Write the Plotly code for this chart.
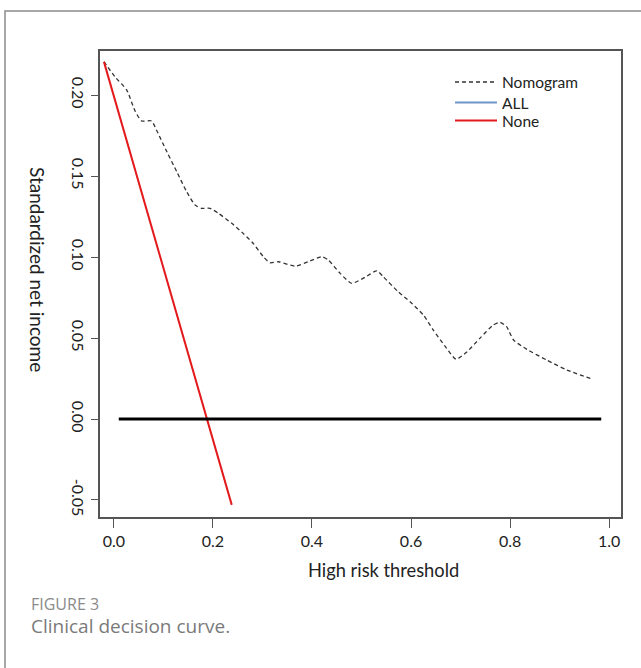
import plotly.graph_objects as go

# ---- data ----
nomo_x = [-0.020, 0.002, 0.026, 0.042, 0.056, 0.076, 0.086, 0.107, 0.127, 0.147, 0.164,
          0.177, 0.194, 0.211, 0.238, 0.261, 0.281, 0.302, 0.315, 0.332, 0.366, 0.396,
          0.420, 0.433, 0.457, 0.480, 0.507, 0.531, 0.544, 0.574, 0.598, 0.625, 0.645,
          0.672, 0.691, 0.713, 0.739, 0.766, 0.780, 0.793, 0.807, 0.834, 0.874, 0.915, 0.962]
nomo_y = [0.2206, 0.2113, 0.2031, 0.1907, 0.1840, 0.1840, 0.1784, 0.1650, 0.1527, 0.1403, 0.1321,
          0.1301, 0.1301, 0.1270, 0.1208, 0.1146, 0.1085, 0.1002, 0.0965, 0.0971, 0.0944, 0.0975,
          0.1002, 0.0981, 0.0899, 0.0838, 0.0875, 0.0915, 0.0878, 0.0786, 0.0724, 0.0642, 0.0549,
          0.0436, 0.0369, 0.0415, 0.0498, 0.0580, 0.0597, 0.0570, 0.0488, 0.0430, 0.0364, 0.0302, 0.0251]

all_x = [0.010, 0.984]
all_y = [0.0, 0.0]

none_x = [-0.020, 0.238]
none_y = [0.2205, -0.053]

x_ticks = [0.0, 0.2, 0.4, 0.6, 0.8, 1.0]
x_tick_labels = ["0.0", "0.2", "0.4", "0.6", "0.8", "1.0"]
y_ticks = [-0.05, 0.0, 0.05, 0.10, 0.15, 0.20]
y_tick_labels = ["-0.05", "0.00", "0.05", "0.10", "0.15", "0.20"]

FONT = "Lato, 'Open Sans', sans-serif"
CAPFONT = "'Open Sans', sans-serif"
AXC = "#555555"

fig = go.Figure()
fig.add_trace(go.Scatter(x=nomo_x, y=nomo_y, mode="lines", name="Nomogram", legend="legend",
                         line=dict(color="#333333", width=1.3, dash="4px,3px", shape="spline", smoothing=0.6)))
fig.add_trace(go.Scatter(x=all_x, y=all_y, mode="lines", name="ALL", legend="legend2",
                         line=dict(color="#6f95c9", width=2)))
fig.add_trace(go.Scatter(x=none_x, y=none_y, mode="lines", name="None", legend="legend3",
                         line=dict(color="#e3191c", width=2)))
# thick black reference line drawn over the ALL line
fig.add_trace(go.Scatter(x=all_x, y=all_y, mode="lines", showlegend=False,
                         line=dict(color="#000000", width=3), hoverinfo="skip"))


def leg(top_px):
    return dict(x=(450 - 100) / 521, y=(517 - top_px) / 466, xanchor="left", yanchor="top",
                bgcolor="rgba(0,0,0,0)", font=dict(size=15.5, family=FONT, color="#222"),
                itemwidth=42, tracegroupgap=0)


fig.update_layout(
    width=641, height=668, autosize=False,
    margin=dict(l=100, r=20, t=51, b=151, pad=0),
    plot_bgcolor="white", paper_bgcolor="white",
    font=dict(family=FONT, color="#222222"),
    xaxis=dict(range=[-0.028, 1.024], tickvals=x_ticks, ticktext=x_tick_labels,
               ticks="outside", ticklen=9, tickwidth=1.3, tickcolor=AXC,
               showline=True, linecolor=AXC, linewidth=1.5, mirror=True,
               showgrid=False, zeroline=False, tickfont=dict(size=16, family=FONT, color="#222")),
    yaxis=dict(range=[-0.0605, 0.2272], tickvals=y_ticks, ticktext=y_tick_labels,
               tickangle=90, ticks="outside", ticklen=7, tickwidth=1.3, tickcolor=AXC,
               showline=True, linecolor=AXC, linewidth=1.5, mirror=True,
               showgrid=False, zeroline=False, tickfont=dict(size=16, family=FONT, color="#222")),
    legend=leg(65.4),
    legend2=leg(86.0),
    legend3=leg(104.0),
    showlegend=True,
)

fig.add_annotation(text="Standardized net income", xref="paper", yref="paper",
                   x=(38 - 100) / 521, y=(517 - 269) / 466, textangle=90, showarrow=False,
                   xanchor="center", yanchor="middle", font=dict(size=19, family=FONT, color="#222"))
fig.add_annotation(text="High risk threshold", xref="paper", yref="paper",
                   x=(383 - 100) / 521, y=(517 - 570) / 466, showarrow=False,
                   xanchor="center", yanchor="middle", font=dict(size=18.3, family=FONT, color="#222"))
fig.add_annotation(text="FIGURE 3", xref="paper", yref="paper",
                   x=(29 - 100) / 521, y=(517 - 604) / 466, showarrow=False,
                   xanchor="left", yanchor="middle", font=dict(size=16, family=CAPFONT, color="#8a8a8a"))
fig.add_annotation(text="Clinical decision curve.", xref="paper", yref="paper",
                   x=(29 - 100) / 521, y=(517 - 626) / 466, showarrow=False,
                   xanchor="left", yanchor="middle", font=dict(size=19, family=CAPFONT, color="#7a7a7a"))

fig.add_shape(type="rect", xref="paper", yref="paper",
              x0=(5 - 100) / 521, x1=(660 - 100) / 521, y0=(517 - 700) / 466, y1=(517 - 11) / 466,
              line=dict(color="#8a8a8a", width=1.5), fillcolor="rgba(0,0,0,0)", layer="below")

fig.write_html("out.html", config={"displayModeBar": False},
               post_script="document.body.style.margin='0';")
